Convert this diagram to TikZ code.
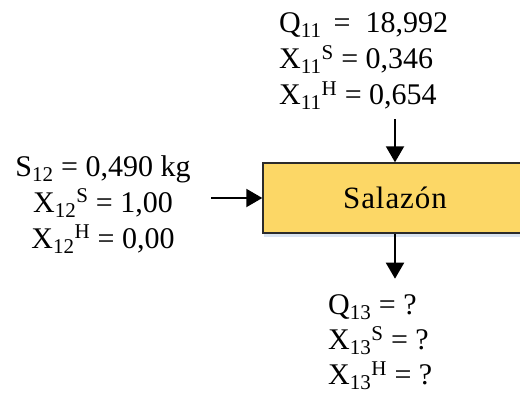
\documentclass[tikz,border=0pt]{standalone}
\usepackage{fontspec}
\setmainfont{Liberation Serif}
\usepackage{xcolor}
\usepackage{tikz}
\usetikzlibrary{arrows.meta, positioning, shadows}
\definecolor{amarillo}{HTML}{FCD766}
\definecolor{borde}{HTML}{2B2B2B}
\definecolor{sombra}{HTML}{C9D9EC}
\tikzset{
  proceso/.style={rectangle, draw=borde, line width=1.4pt, fill=amarillo,
    minimum width=264pt, minimum height=70pt, inner sep=0pt,
    font=\fontsize{31}{35}\selectfont\addfontfeature{LetterSpace=3},
    drop shadow={shadow xshift=1pt, shadow yshift=-4pt, fill=sombra, opacity=0.7}},
  datos/.style={inner sep=0pt, font=\fontsize{30}{36}\selectfont},
  flecha/.style={-{Triangle[length=16pt, width=18pt]}, line width=2pt, color=black}
}

\begin{document}
\begin{tikzpicture}[x=1pt, y=-1pt]
    \useasboundingbox (0,0) rectangle (520,397);
    \clip (0,0) rectangle (520,397);

    \node[proceso] (caja) at (395,198) {Salazón};
    \node[datos, align=left, anchor=north west] (q11) at (279,12)
      {Q\textsubscript{11}\hspace{0.4em}=\hspace{0.5em}18,992\\
       X\textsubscript{11}\textsuperscript{S} = 0,346\\
       X\textsubscript{11}\textsuperscript{H} = 0,654};
    \node[datos, align=center, anchor=north] (s12) at (103,155)
      {S\textsubscript{12} = 0,490 kg\\
       X\textsubscript{12}\textsuperscript{S} = 1,00\\
       X\textsubscript{12}\textsuperscript{H} = 0,00};
    \node[datos, align=left, anchor=north west, font=\fontsize{30}{35}\selectfont] (q13) at (328,294)
      {Q\textsubscript{13} = ?\\
       X\textsubscript{13}\textsuperscript{S} = ?\\
       X\textsubscript{13}\textsuperscript{H} = ?};

    \coordinate[above=43pt of caja.north] (entra11);
    \coordinate[left=51pt of caja.west] (entra12);
    \coordinate[below=45pt of caja.south] (sale13);

    \draw[flecha] (entra11) -- (caja.north);
    \draw[flecha] (entra12) -- (caja.west);
    \draw[flecha] (caja.south) -- (sale13);
  \end{tikzpicture}
\end{document}
